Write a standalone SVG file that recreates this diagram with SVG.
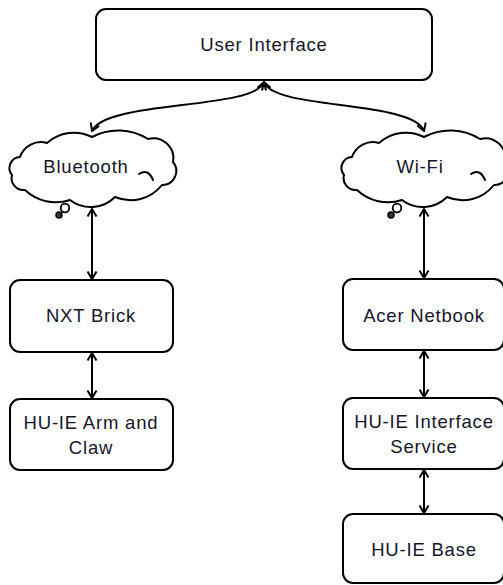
<svg xmlns="http://www.w3.org/2000/svg" width="503" height="585" viewBox="0 0 503 585">
<defs>
<style>
.box{fill:#fff;stroke:#000;stroke-width:2}
.cloud{fill:#fff;stroke:#000;stroke-width:2;stroke-linejoin:round}
.inner{fill:none;stroke:#000;stroke-width:2;stroke-linecap:round}
.lbl{font-family:"Liberation Sans",Arial,sans-serif;font-size:18.5px;letter-spacing:0.8px;fill:#16162a;text-anchor:middle}
.edge{fill:none;stroke:#000;stroke-width:2;marker-start:url(#ah);marker-end:url(#ah)}
</style>
<marker id="ah" viewBox="0 0 11 11" refX="9.5" refY="5.5" markerWidth="11" markerHeight="11" markerUnits="userSpaceOnUse" orient="auto-start-reverse">
<path d="M2,1 L9.5,5.5 L2,10" fill="none" stroke="#000" stroke-width="2"/>
</marker>
<g id="cloudShape">
<path class="cloud" d="M20,157 A22,22 0 0 1 47,143 A40,40 0 0 1 92,137 A56,56 0 0 1 148,139 A20,20 0 0 1 173,162 A14,14 0 0 1 162,185 A40,40 0 0 1 115,197 A34,34 0 0 1 70,200 A45,45 0 0 1 25,190 A12,12 0 0 1 12,175 A11,11 0 0 1 20,157 Z"/>
<path class="inner" d="M139,174 Q148,168 153,180"/>
<circle cx="65" cy="208" r="4.3" fill="#fff" stroke="#000" stroke-width="1.8"/>
<circle cx="59" cy="215" r="3" fill="#333" stroke="#000" stroke-width="1.5"/>
</g>
</defs>

<g id="connectors">
<path class="edge" d="M264,82 C255,110 105,100 92,131"/>
<path class="edge" d="M264,82 C273,110 413,100 424,131"/>
<path class="edge" d="M92,209 L92,279"/>
<path class="edge" d="M92,353 L92,398"/>
<path class="edge" d="M424,209 L424,278"/>
<path class="edge" d="M424,351 L424,397"/>
<path class="edge" d="M424,470 L424,513"/>
</g>

<g id="user-interface">
<rect class="box" x="96" y="9" width="336" height="71" rx="10"/>
<text class="lbl" x="264" y="51">User Interface</text>
</g>

<g id="bluetooth">
<use href="#cloudShape"/>
<text class="lbl" x="86" y="173">Bluetooth</text>
</g>

<g id="wifi">
<use href="#cloudShape" transform="translate(332,0)"/>
<text class="lbl" x="420" y="173">Wi-Fi</text>
</g>

<g id="nxt-brick">
<rect class="box" x="10" y="280" width="163" height="72" rx="10"/>
<text class="lbl" x="91" y="322">NXT Brick</text>
</g>

<g id="arm-claw">
<rect class="box" x="10" y="399" width="163" height="71" rx="10"/>
<text class="lbl" x="91" y="429">HU-IE Arm and</text>
<text class="lbl" x="91" y="454">Claw</text>
</g>

<g id="acer-netbook">
<rect class="box" x="343" y="279" width="161" height="71" rx="10"/>
<text class="lbl" x="424" y="322">Acer Netbook</text>
</g>

<g id="interface-service">
<rect class="box" x="343" y="398" width="161" height="71" rx="10"/>
<text class="lbl" x="424" y="428">HU-IE Interface</text>
<text class="lbl" x="424" y="453">Service</text>
</g>

<g id="hu-ie-base">
<rect class="box" x="343" y="514" width="161" height="69" rx="10"/>
<text class="lbl" x="424" y="556">HU-IE Base</text>
</g>
</svg>
